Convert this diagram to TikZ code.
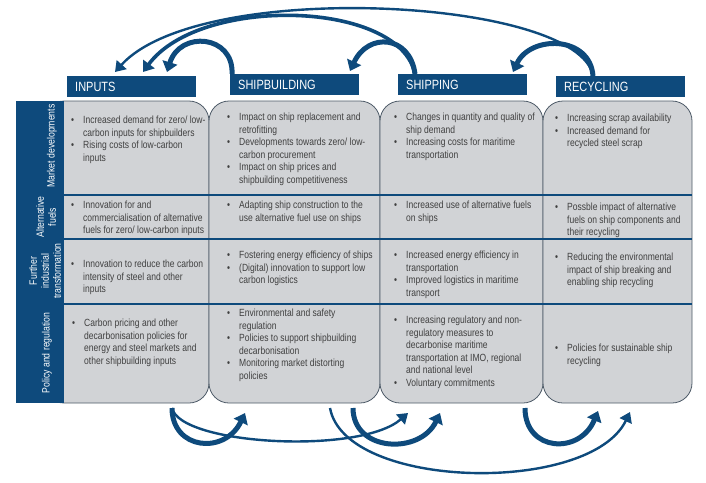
\documentclass[tikz,border=0pt]{standalone}
\usepackage{fontspec}
\setmainfont{Liberation Sans}[FakeStretch=0.82]
\usetikzlibrary{arrows.meta}
\definecolor{navy}{HTML}{0E4A7C}
\definecolor{cardgray}{HTML}{D1D3D6}
\definecolor{cardline}{HTML}{4E5B68}
\definecolor{txtgray}{HTML}{404040}
\newcommand{\itm}{\llap{\textbullet\hspace{9pt}}}

\begin{document}
\begin{tikzpicture}[x=1pt, y=-1pt,
    headbox/.style={rectangle, fill=navy, text=white, font=\fontsize{13.4}{15}\selectfont, minimum height=21pt, text width=113pt, inner xsep=8pt, inner ysep=0pt, align=left, anchor=north west},
    card/.style={rectangle, rounded corners=20pt, draw=cardline, line width=0.8pt, fill=cardgray, inner sep=0pt, minimum height=302pt},
    cell/.style={anchor=north west, inner sep=0pt, align=left, text=txtgray, font=\fontsize{10.4}{12.5}\selectfont},
    rowlabel/.style={rotate=90, text=white, align=center, inner sep=0pt, font=\fontsize{10.6}{12}\selectfont},
    rowline/.style={navy, line width=1.2pt},
    flowarrow/.style={navy, line width=5pt, -{Triangle[width=15pt,length=10pt]}},
    midarrow/.style={navy, line width=3.6pt, -{Triangle[width=14pt,length=10pt]}},
    longarrow/.style={navy, line width=2.4pt, -{Triangle[width=13pt,length=10pt]}}]

    \fill[white] (0,0) rectangle (706,482);
    \useasboundingbox (0,0) rectangle (706,482);

    % Stage cards
    \node[card, minimum width=165pt] (cInp) at (126.5,252) {};
    \node[card, minimum width=171pt] (cShb) at (294.5,252) {};
    \node[card, minimum width=163pt] (cShp) at (461.5,252) {};
    \node[card, minimum width=149pt] (cRec) at (617.5,252) {};

    % Left bar with the row titles
    \node[fill=navy, minimum width=48pt, minimum height=302pt, inner sep=0pt] (side) at (40,252) {};
    \node[rowlabel] (rMarket) at (52,146) {Market developments};
    \node[rowlabel] (rFuels) at (46,217) {Alternative\\fuels};
    \node[rowlabel] (rIndustry) at (45,271) {Further\\industrial\\transformation};
    \node[rowlabel] (rPolicy) at (47,353) {Policy and regulation};

    % Row separators
    \draw[rowline] (64,195) -- (692,195);
    \draw[rowline] (64,239) -- (692,239);
    \draw[rowline] (64,304) -- (692,304);

    % Market developments
    \node[cell] (tInp1) at (83,116) {\itm Increased demand for zero/ low-\\carbon inputs for shipbuilders\\\itm Rising costs of low-carbon\\inputs};
    \node[cell] (tShb1) at (239,113) {\itm Impact on ship replacement and\\retrofitting\\\itm Developments towards zero/ low-\\carbon procurement\\\itm Impact on ship prices and\\shipbuilding competitiveness};
    \node[cell] (tShp1) at (406,113) {\itm Changes in quantity and quality of\\ship demand\\\itm Increasing costs for maritime\\transportation};
    \node[cell] (tRec1) at (567,114) {\itm Increasing scrap availability\\\itm Increased demand for\\recycled steel scrap};

    % Alternative fuels
    \node[cell] (tInp2) at (83,201) {\itm Innovation for and\\commercialisation of alternative\\fuels for zero/ low-carbon inputs};
    \node[cell] (tShb2) at (239,201) {\itm Adapting ship construction to the\\use alternative fuel use on ships};
    \node[cell] (tShp2) at (406,201) {\itm Increased use of alternative fuels\\on ships};
    \node[cell] (tRec2) at (567,203) {\itm Possble impact of alternative\\fuels on ship components and\\their recycling};

    % Further industrial transformation
    \node[cell] (tInp3) at (83,260) {\itm Innovation to reduce the carbon\\intensity of steel and other\\inputs};
    \node[cell] (tShb3) at (239,251) {\itm Fostering energy efficiency of ships\\\itm (Digital) innovation to support low\\carbon logistics};
    \node[cell] (tShp3) at (406,251) {\itm Increased energy efficiency in\\transportation\\\itm Improved logistics in maritime\\transport};
    \node[cell] (tRec3) at (567,253) {\itm Reducing the environmental\\impact of ship breaking and\\enabling ship recycling};

    % Policy and regulation
    \node[cell] (tInp4) at (84,319) {\itm Carbon pricing and other\\decarbonisation policies for\\energy and steel markets and\\other shipbuilding inputs};
    \node[cell] (tShb4) at (239,309) {\itm Environmental and safety\\regulation\\\itm Policies to support shipbuilding\\decarbonisation\\\itm Monitoring market distorting\\policies};
    \node[cell] (tShp4) at (406,316) {\itm Increasing regulatory and non-\\regulatory measures to\\decarbonise maritime\\transportation at IMO, regional\\and national level\\\itm Voluntary commitments};
    \node[cell] (tRec4) at (567,344) {\itm Policies for sustainable ship\\recycling};

    % Stage titles
    \node[headbox] (inp) at (67,76) {INPUTS};
    \node[headbox] (shb) at (230,74) {SHIPBUILDING};
    \node[headbox] (shp) at (398,74) {SHIPPING};
    \node[headbox] (rec) at (556,76) {RECYCLING};

    % Feedback arrows above the titles
    \draw[longarrow] ([xshift=37pt]rec.north west) .. controls +(-13,-78) and +(85,-94) .. ([xshift=48pt,yshift=4pt]inp.north west);
    \draw[midarrow] ([xshift=17pt]shp.north west) .. controls +(-15,-74) and +(57,-77) .. ([xshift=76pt,yshift=4pt]inp.north west);
    \draw[flowarrow] ([xshift=2pt]shb.north west) .. controls +(2,-39) and +(13,-42) .. ([xshift=100pt,yshift=4pt]inp.north west);
    \draw[flowarrow] ([xshift=17pt]shp.north west) .. controls +(-5,-39) and +(18,-39) .. ([xshift=120pt,yshift=3pt]shb.north west);
    \draw[flowarrow] ([xshift=37pt]rec.north west) .. controls +(-3,-41) and +(17,-37) .. ([xshift=115pt,yshift=2pt]shp.north west);

    % Forward arrows below the cards
    \coordinate (inpLow) at (172,408);
    \coordinate (shbLowA) at (245,413);
    \coordinate (shbLowB) at (330,408);
    \coordinate (shbLowC) at (353,408);
    \coordinate (shpLowA) at (408,413);
    \coordinate (shpLowB) at (440,413);
    \coordinate (shpLowC) at (525,408);
    \coordinate (recLowA) at (598,411);
    \coordinate (recLowB) at (630,412);

    \draw[longarrow] (inpLow) .. controls +(8,37) and +(-48,42) .. (shpLowA);
    \draw[longarrow] (shbLowB) .. controls +(15,82) and +(-40,83) .. (recLowB);
    \draw[flowarrow] (inpLow) .. controls +(0,42) and +(-20,42) .. (shbLowA);
    \draw[flowarrow] (shbLowC) .. controls +(0,44) and +(-20,42) .. (shpLowB);
    \draw[flowarrow] (shpLowC) .. controls +(0,44) and +(-18,44) .. (recLowA);

\end{tikzpicture}
\end{document}
